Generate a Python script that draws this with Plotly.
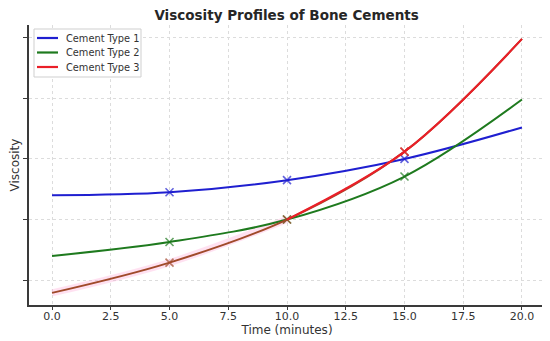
import plotly.graph_objects as go

time_min = [0, 5, 10, 15, 20]
cement1 = [2.40, 2.45, 2.65, 3.00, 3.52]
cement2 = [1.40, 1.63, 2.00, 2.71, 3.98]
cement3 = [0.79, 1.29, 2.00, 3.12, 4.98]
series_names = ["Cement Type 1", "Cement Type 2", "Cement Type 3"]
x_ticks = [0, 2.5, 5, 7.5, 10, 12.5, 15, 17.5, 20]
x_tick_labels = ["0.0", "2.5", "5.0", "7.5", "10.0", "12.5", "15.0", "17.5", "20.0"]
y_ticks = [1, 2, 3, 4, 5]

BLUE, GREEN, RED, BROWN = "#1f1fd0", "#1e7a1e", "#ea1f28", "#a04a2a"
msize = [0, 8, 8, 8, 0]  # markers only at interior points

fig = go.Figure()

def add(x, y, col, sizes, width=2):
    fig.add_trace(go.Scatter(
        x=x, y=y, mode="lines+markers", showlegend=False, hoverinfo="skip",
        line=dict(color=col, width=width, shape="spline", smoothing=1.0),
        marker=dict(symbol="x-thin", size=sizes, line=dict(color=col, width=1.6)),
    ))

# faint pink halo under early part of series 3
fig.add_trace(go.Scatter(x=time_min[:3], y=cement3[:3], mode="lines", showlegend=False, hoverinfo="skip",
                         line=dict(color="rgba(255,170,215,0.35)", width=7, shape="spline")))
add(time_min, cement1, BLUE, msize)
add(time_min, cement2, GREEN, msize)
add(time_min, cement3, BROWN, msize)
add(time_min[2:], cement3[2:], RED, [0, 8, 0])

# legend (drawn as a box with line samples and labels)
W_PLOT = 516.0
H_PLOT = 280.0
def px_x(px):
    return px / W_PLOT
def px_y(px):
    return 1 - px / H_PLOT

shapes = [dict(type="rect", xref="paper", yref="paper", layer="above",
               x0=px_x(5), x1=px_x(112), y0=px_y(52), y1=px_y(4),
               fillcolor="white", line=dict(color="#cfcfcf", width=1))]
annotations = []
for i, (name, col) in enumerate(zip(series_names, [BLUE, GREEN, RED])):
    yy = px_y(13 + 14.5 * i)
    shapes.append(dict(type="line", xref="paper", yref="paper", layer="above",
                       x0=px_x(8), x1=px_x(29), y0=yy, y1=yy,
                       line=dict(color=col, width=2.2)))
    annotations.append(dict(text=name, xref="paper", yref="paper", x=px_x(35), y=yy,
                            xanchor="left", yanchor="middle", showarrow=False,
                            font=dict(size=9.8, color="#333333")))

fig.update_layout(
    width=542, height=333,
    margin=dict(l=21, r=5, t=17, b=36),
    paper_bgcolor="white", plot_bgcolor="white",
    font=dict(family="DejaVu Sans", color="#333333"),
    title=dict(text="<b>Viscosity Profiles of Bone Cements</b>", x=0.514, xanchor="center",
               y=0.979, yanchor="middle", font=dict(size=13.5, color="#262626")),
    showlegend=False,
    shapes=shapes,
    annotations=annotations,
)
fig.update_xaxes(
    range=[-0.98, 20.98], tickvals=x_ticks, ticktext=x_tick_labels,
    showgrid=True, gridcolor="#dcdcdc", griddash="dot", gridwidth=1,
    showline=True, linecolor="#3a3a3a", linewidth=1.6,
    ticks="outside", ticklen=3, tickcolor="#3a3a3a", ticklabelstandoff=-3,
    tickfont=dict(size=11, color="#333333"), zeroline=False,
    title=dict(text="Time (minutes)", font=dict(size=12, color="#333333"), standoff=0),
)
fig.update_yaxes(
    range=[0.59, 5.21], tickvals=y_ticks, showticklabels=False,
    showgrid=True, gridcolor="#dcdcdc", griddash="dot", gridwidth=1,
    showline=True, linecolor="#3a3a3a", linewidth=1.6,
    ticks="outside", ticklen=4, tickcolor="#3a3a3a", zeroline=False,
    title=dict(text="Viscosity", font=dict(size=12, color="#333333"), standoff=2),
)

fig.write_html("out.html")
